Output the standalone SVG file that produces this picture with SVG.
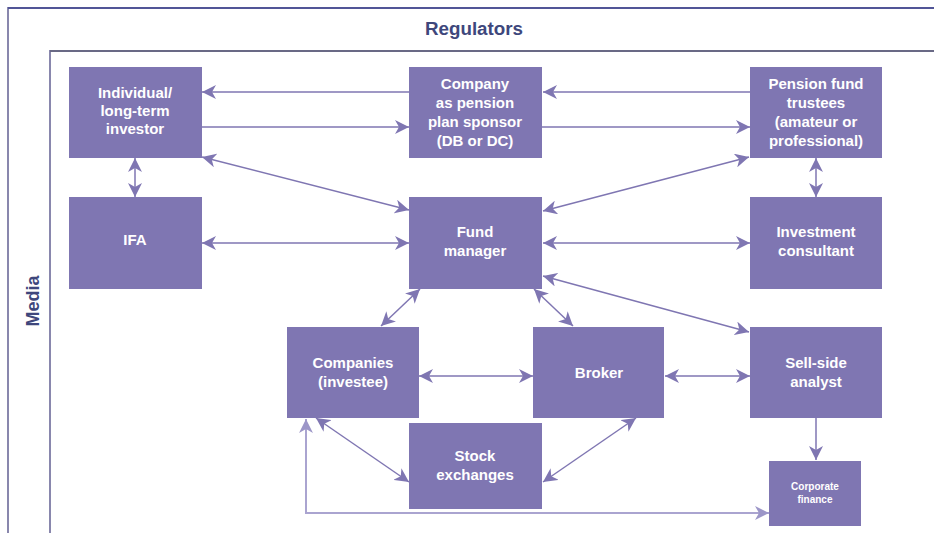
<svg xmlns="http://www.w3.org/2000/svg" width="934" height="533" viewBox="0 0 934 533">
<defs>
<style>
.node rect{fill:#7f76b2;}
.node text{fill:#ffffff;font-family:"Liberation Sans",Arial,sans-serif;font-weight:bold;font-size:15px;text-anchor:middle;}
.node text.small{font-size:10px;}
.conn line,.conn polyline{stroke:#7f76b2;stroke-width:1.5;fill:none;}
.conn .light{stroke:#aaa4d0;stroke-width:2;}
.frame{fill:none;stroke:#8987ad;stroke-width:2;}
.label{fill:#3e477c;font-family:"Liberation Sans",Arial,sans-serif;font-weight:bold;font-size:18px;text-anchor:middle;}
</style>
<marker id="ah" markerUnits="userSpaceOnUse" markerWidth="15" markerHeight="14" refX="14" refY="7" orient="auto-start-reverse">
<path d="M0,0 L14,7 L0,14 L4,7 z" fill="#7f76b2"/>
</marker>
<marker id="ahl" markerUnits="userSpaceOnUse" markerWidth="15" markerHeight="14" refX="14" refY="7" orient="auto-start-reverse">
<path d="M0,0 L14,7 L0,14 L4,7 z" fill="#9c96c8"/>
</marker>
</defs>
<rect width="934" height="533" fill="#ffffff"/>
<g id="frames">
<polyline class="frame" points="8,533 8,8 934,8"/>
<line x1="8" y1="8" x2="934" y2="8" stroke="#3f4590" stroke-width="1.5"/>
<polyline class="frame" points="50,533 50,51 934,51"/>
<line x1="50" y1="51" x2="934" y2="51" stroke="#5f5f78" stroke-width="1.5"/>
<text class="label" x="474" y="35" textLength="98" lengthAdjust="spacingAndGlyphs">Regulators</text>
<text class="label" transform="translate(39,301) rotate(-90)">Media</text>
</g>
<g class="conn" id="connectors">
<line x1="409" y1="92" x2="202" y2="92" marker-end="url(#ah)"/>
<line x1="201" y1="127" x2="409" y2="127" marker-end="url(#ah)"/>
<line x1="750" y1="92" x2="543" y2="92" marker-end="url(#ah)"/>
<line x1="542" y1="127" x2="750" y2="127" marker-end="url(#ah)"/>
<line x1="135" y1="158" x2="135" y2="197" marker-start="url(#ah)" marker-end="url(#ah)"/>
<line x1="202" y1="157" x2="409" y2="210" marker-start="url(#ah)" marker-end="url(#ah)"/>
<line x1="749" y1="157" x2="543" y2="211" marker-start="url(#ah)" marker-end="url(#ah)"/>
<line x1="202" y1="243" x2="409" y2="243" marker-start="url(#ah)" marker-end="url(#ah)"/>
<line x1="543" y1="243" x2="750" y2="243" marker-start="url(#ah)" marker-end="url(#ah)"/>
<line x1="816" y1="158" x2="816" y2="197" marker-start="url(#ah)" marker-end="url(#ah)"/>
<line x1="543" y1="276" x2="749" y2="332" marker-start="url(#ah)" marker-end="url(#ah)"/>
<line x1="420" y1="289" x2="381" y2="326" marker-start="url(#ah)" marker-end="url(#ah)"/>
<line x1="534" y1="289" x2="573" y2="326" marker-start="url(#ah)" marker-end="url(#ah)"/>
<line x1="419" y1="376" x2="533" y2="376" marker-start="url(#ah)" marker-end="url(#ah)"/>
<line x1="665" y1="376" x2="750" y2="376" marker-start="url(#ah)" marker-end="url(#ah)"/>
<line x1="316" y1="418" x2="409" y2="482" marker-start="url(#ah)" marker-end="url(#ah)"/>
<line x1="636" y1="418" x2="543" y2="482" marker-start="url(#ah)" marker-end="url(#ah)"/>
<line x1="816" y1="418" x2="816" y2="460" marker-end="url(#ah)"/>
<polyline class="light" points="769,513 306,513 306,419" marker-start="url(#ahl)" marker-end="url(#ahl)"/>
</g>
<g class="node" id="individual">
<rect x="69" y="67" width="133" height="91"/>
<text x="135" y="98">Individual/</text>
<text x="135" y="116">long-term</text>
<text x="135" y="134">investor</text>
</g>
<g class="node" id="company-sponsor">
<rect x="409" y="67" width="133" height="91"/>
<text x="475" y="89">Company</text>
<text x="475" y="108">as pension</text>
<text x="475" y="127">plan sponsor</text>
<text x="475" y="146">(DB or DC)</text>
</g>
<g class="node" id="pension-trustees">
<rect x="750" y="67" width="132" height="91"/>
<text x="816" y="89">Pension fund</text>
<text x="816" y="108">trustees</text>
<text x="816" y="127">(amateur or</text>
<text x="816" y="146">professional)</text>
</g>
<g class="node" id="ifa">
<rect x="69" y="197" width="133" height="92"/>
<text x="135" y="245">IFA</text>
</g>
<g class="node" id="fund-manager">
<rect x="409" y="197" width="133" height="92"/>
<text x="475" y="237">Fund</text>
<text x="475" y="256">manager</text>
</g>
<g class="node" id="investment-consultant">
<rect x="750" y="197" width="132" height="92"/>
<text x="816" y="237">Investment</text>
<text x="816" y="256">consultant</text>
</g>
<g class="node" id="companies-investee">
<rect x="287" y="327" width="132" height="91"/>
<text x="353" y="368">Companies</text>
<text x="353" y="387">(investee)</text>
</g>
<g class="node" id="broker">
<rect x="533" y="327" width="131" height="91"/>
<text x="599" y="378">Broker</text>
</g>
<g class="node" id="sell-side-analyst">
<rect x="750" y="327" width="132" height="91"/>
<text x="816" y="368">Sell-side</text>
<text x="816" y="387">analyst</text>
</g>
<g class="node" id="stock-exchanges">
<rect x="409" y="423" width="133" height="86"/>
<text x="475" y="461">Stock</text>
<text x="475" y="480">exchanges</text>
</g>
<g class="node" id="corporate-finance">
<rect x="769" y="461" width="92" height="65"/>
<text class="small" x="815" y="490">Corporate</text>
<text class="small" x="815" y="503">finance</text>
</g>
</svg>
